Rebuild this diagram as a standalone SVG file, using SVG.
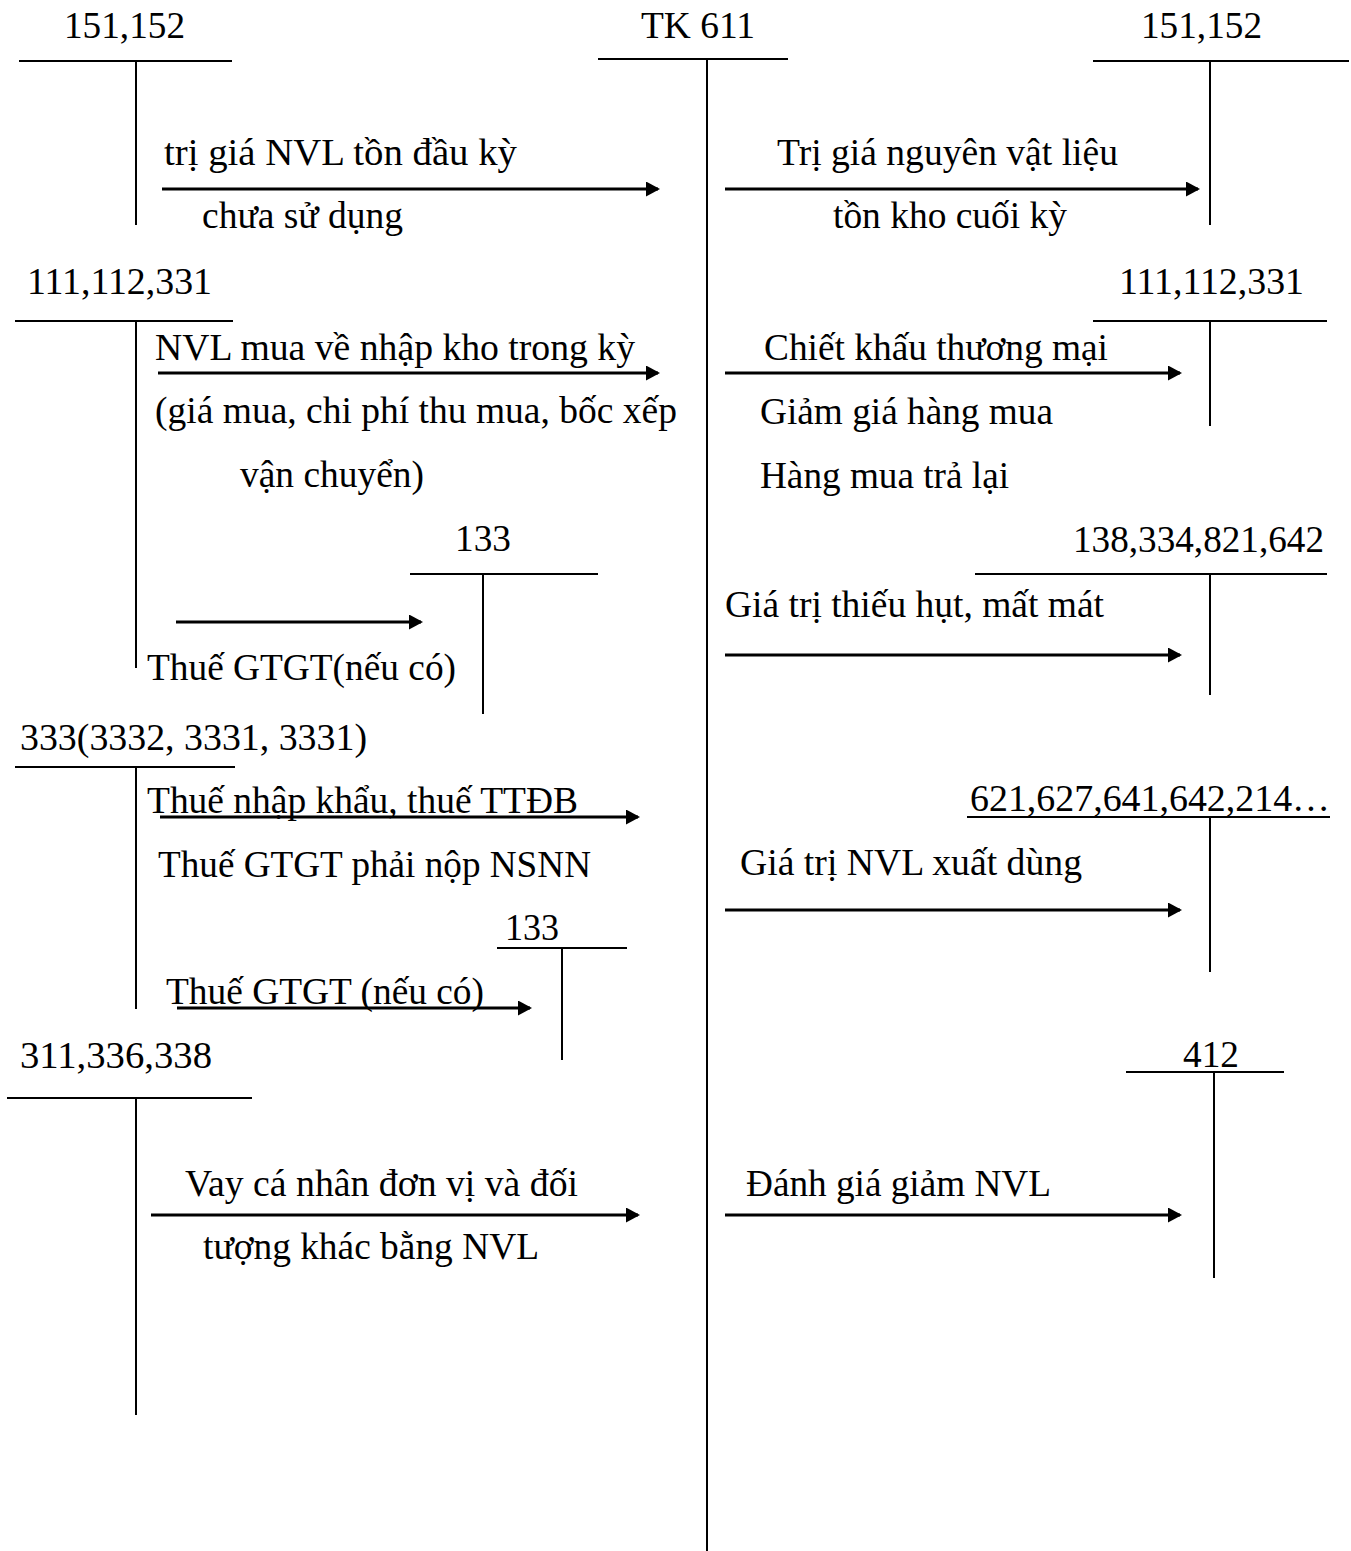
<svg xmlns="http://www.w3.org/2000/svg" width="1351" height="1551" viewBox="0 0 1351 1551">
  <style>
    text { font-family: "Liberation Serif", "Times New Roman", serif; font-size: 37.5px; fill: #000; }
    .t { stroke: #000; stroke-width: 2; fill: none; }
    .arr { stroke: #000; stroke-width: 3; fill: none; marker-end: url(#head); }
  </style>
  <defs>
    <marker id="head" markerUnits="userSpaceOnUse" viewBox="0 0 14 15" markerWidth="14" markerHeight="15" refX="12" refY="7.5" orient="auto">
      <path d="M0,0 L14,7.5 L0,15 z" fill="#000"/>
    </marker>
  </defs>
  <rect width="1351" height="1551" fill="#fff"/>

  <!-- central account -->
  <g id="tk611">
    <text x="641" y="38" textLength="114" lengthAdjust="spacingAndGlyphs">TK 611</text>
    <line class="t" x1="598" y1="59" x2="788" y2="59"/>
    <line class="t" x1="707" y1="59" x2="707" y2="1551"/>
  </g>

  <!-- left side accounts -->
  <g id="acc-151-152-left">
    <text x="64" y="38" textLength="121" lengthAdjust="spacingAndGlyphs">151,152</text>
    <line class="t" x1="19" y1="61" x2="232" y2="61"/>
    <line class="t" x1="136" y1="61" x2="136" y2="225"/>
  </g>
  <g id="acc-111-112-331-left">
    <text x="27" y="294" textLength="185" lengthAdjust="spacingAndGlyphs">111,112,331</text>
    <line class="t" x1="15" y1="321" x2="233" y2="321"/>
    <line class="t" x1="136" y1="321" x2="136" y2="668"/>
  </g>
  <g id="acc-133-a">
    <text x="455" y="551" textLength="56" lengthAdjust="spacingAndGlyphs">133</text>
    <line class="t" x1="410" y1="574" x2="598" y2="574"/>
    <line class="t" x1="483" y1="574" x2="483" y2="714"/>
  </g>
  <g id="acc-333">
    <text x="20" y="750" textLength="347" lengthAdjust="spacingAndGlyphs">333(3332, 3331, 3331)</text>
    <line class="t" x1="15" y1="767" x2="235" y2="767"/>
    <line class="t" x1="136" y1="767" x2="136" y2="1009"/>
  </g>
  <g id="acc-133-b">
    <text x="505" y="940" textLength="54" lengthAdjust="spacingAndGlyphs">133</text>
    <line class="t" x1="497" y1="948" x2="627" y2="948"/>
    <line class="t" x1="562" y1="948" x2="562" y2="1060"/>
  </g>
  <g id="acc-311-336-338">
    <text x="20" y="1068" textLength="192" lengthAdjust="spacingAndGlyphs">311,336,338</text>
    <line class="t" x1="7" y1="1098" x2="252" y2="1098"/>
    <line class="t" x1="136" y1="1098" x2="136" y2="1415"/>
  </g>

  <!-- right side accounts -->
  <g id="acc-151-152-right">
    <text x="1141" y="38" textLength="121" lengthAdjust="spacingAndGlyphs">151,152</text>
    <line class="t" x1="1093" y1="61" x2="1349" y2="61"/>
    <line class="t" x1="1210" y1="61" x2="1210" y2="225"/>
  </g>
  <g id="acc-111-112-331-right">
    <text x="1119" y="294" textLength="185" lengthAdjust="spacingAndGlyphs">111,112,331</text>
    <line class="t" x1="1093" y1="321" x2="1327" y2="321"/>
    <line class="t" x1="1210" y1="321" x2="1210" y2="426"/>
  </g>
  <g id="acc-138-334-821-642">
    <text x="1073" y="552" textLength="251" lengthAdjust="spacingAndGlyphs">138,334,821,642</text>
    <line class="t" x1="975" y1="574" x2="1327" y2="574"/>
    <line class="t" x1="1210" y1="574" x2="1210" y2="695"/>
  </g>
  <g id="acc-621-etc">
    <text x="970" y="811" textLength="360" lengthAdjust="spacingAndGlyphs">621,627,641,642,214…</text>
    <line class="t" x1="967" y1="817" x2="1330" y2="817"/>
    <line class="t" x1="1210" y1="817" x2="1210" y2="972"/>
  </g>
  <g id="acc-412">
    <text x="1183" y="1067" textLength="56" lengthAdjust="spacingAndGlyphs">412</text>
    <line class="t" x1="1126" y1="1072" x2="1284" y2="1072"/>
    <line class="t" x1="1214" y1="1072" x2="1214" y2="1278"/>
  </g>

  <!-- postings -->
  <g id="connectors">
    <line class="arr" x1="162" y1="189" x2="658" y2="189"/>
    <line class="arr" x1="725" y1="189" x2="1198" y2="189"/>
    <line class="arr" x1="158" y1="373" x2="658" y2="373"/>
    <line class="arr" x1="725" y1="373" x2="1180" y2="373"/>
    <line class="arr" x1="176" y1="622" x2="421" y2="622"/>
    <line class="arr" x1="725" y1="655" x2="1180" y2="655"/>
    <line class="arr" x1="160" y1="817" x2="638" y2="817"/>
    <line class="arr" x1="725" y1="910" x2="1180" y2="910"/>
    <line class="arr" x1="177" y1="1008" x2="530" y2="1008"/>
    <line class="arr" x1="151" y1="1215" x2="638" y2="1215"/>
    <line class="arr" x1="725" y1="1215" x2="1180" y2="1215"/>
  </g>

  <!-- posting labels -->
  <g id="labels">
    <text x="164" y="165" textLength="353" lengthAdjust="spacingAndGlyphs">trị giá NVL tồn đầu kỳ</text>
    <text x="202" y="228" textLength="201" lengthAdjust="spacingAndGlyphs">chưa sử dụng</text>
    <text x="777" y="165" textLength="341" lengthAdjust="spacingAndGlyphs">Trị giá nguyên vật liệu</text>
    <text x="833" y="228" textLength="234" lengthAdjust="spacingAndGlyphs">tồn kho cuối kỳ</text>
    <text x="155" y="360" textLength="480" lengthAdjust="spacingAndGlyphs">NVL mua về nhập kho trong kỳ</text>
    <text x="155" y="423" textLength="522" lengthAdjust="spacingAndGlyphs">(giá mua, chi phí thu mua, bốc xếp</text>
    <text x="240" y="487" textLength="184" lengthAdjust="spacingAndGlyphs">vận chuyển)</text>
    <text x="147" y="680" textLength="309" lengthAdjust="spacingAndGlyphs">Thuế GTGT(nếu có)</text>
    <text x="764" y="360" textLength="344" lengthAdjust="spacingAndGlyphs">Chiết khấu thương mại</text>
    <text x="760" y="424" textLength="293" lengthAdjust="spacingAndGlyphs">Giảm giá hàng mua</text>
    <text x="760" y="488" textLength="249" lengthAdjust="spacingAndGlyphs">Hàng mua trả lại</text>
    <text x="725" y="617" textLength="379" lengthAdjust="spacingAndGlyphs">Giá trị thiếu hụt, mất mát</text>
    <text x="147" y="813" textLength="431" lengthAdjust="spacingAndGlyphs">Thuế nhập khẩu, thuế TTĐB</text>
    <text x="158" y="877" textLength="433" lengthAdjust="spacingAndGlyphs">Thuế GTGT phải nộp NSNN</text>
    <text x="166" y="1004" textLength="318" lengthAdjust="spacingAndGlyphs">Thuế GTGT (nếu có)</text>
    <text x="740" y="875" textLength="342" lengthAdjust="spacingAndGlyphs">Giá trị NVL xuất dùng</text>
    <text x="185" y="1196" textLength="393" lengthAdjust="spacingAndGlyphs">Vay cá nhân đơn vị và đối</text>
    <text x="203" y="1259" textLength="336" lengthAdjust="spacingAndGlyphs">tượng khác bằng NVL</text>
    <text x="746" y="1196" textLength="305" lengthAdjust="spacingAndGlyphs">Đánh giá giảm NVL</text>
  </g>
</svg>
